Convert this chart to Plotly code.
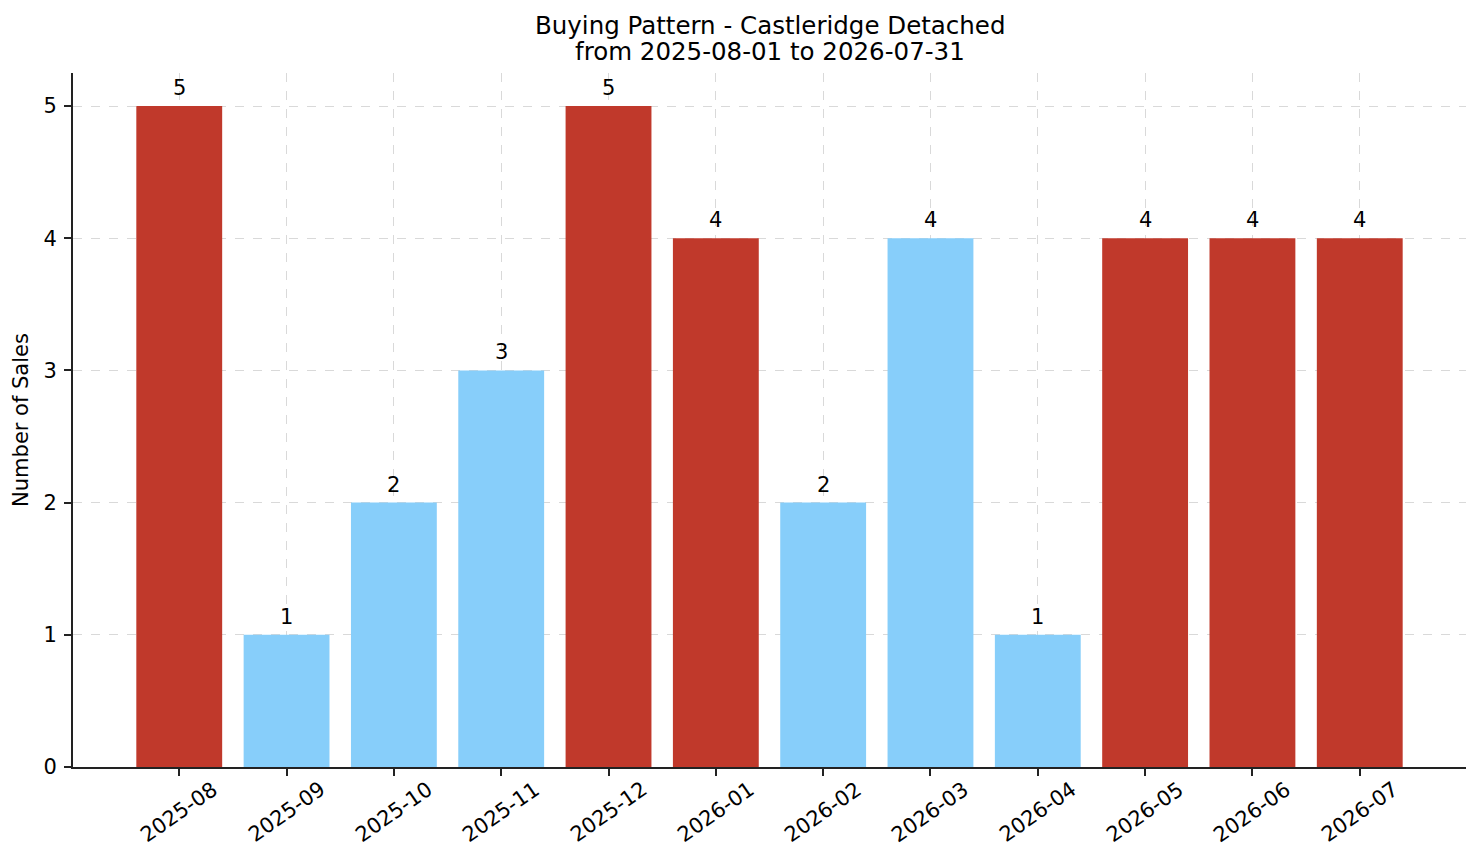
import plotly.graph_objects as go

months = ["2025-08", "2025-09", "2025-10", "2025-11", "2025-12", "2026-01",
          "2026-02", "2026-03", "2026-04", "2026-05", "2026-06", "2026-07"]
sales = [5, 1, 2, 3, 5, 4, 2, 4, 1, 4, 4, 4]
# months flagged as busy buying months (red) vs. quiet (blue)
busy = [True, False, False, False, True, True, False, False, False, True, True, True]
title_lines = ["Buying Pattern - Castleridge Detached", "from 2025-08-01 to 2026-07-31"]

RED = "#c0392b"
BLUE = "#87cefa"
FONT = "DejaVu Sans"
colors = [RED if b else BLUE for b in busy]
xs = list(range(len(months)))

fig = go.Figure(go.Bar(
    x=xs, y=sales,
    marker_color=colors, marker_line_width=0, width=0.8,
    cliponaxis=False,
))

# value labels above the bars
for i, s in zip(xs, sales):
    fig.add_annotation(
        x=i, y=s, text=str(s), showarrow=False,
        xanchor="center", yanchor="bottom", yshift=4,
        font=dict(size=21, color="black", family=FONT),
    )

# rotated month labels centred under each tick, like matplotlib
for i, m in zip(xs, months):
    fig.add_annotation(
        x=i, y=0, yref="y", text=m, textangle=-35, showarrow=False,
        xanchor="center", yanchor="middle", yshift=-45,
        font=dict(size=21, color="black", family=FONT),
    )

# two-line title with tighter line spacing than plotly's default
for line, shift in zip(title_lines, [47.5, 21.5]):
    fig.add_annotation(
        x=0.5, xref="paper", y=1, yref="paper", text=line, showarrow=False,
        xanchor="center", yanchor="middle", yshift=shift,
        font=dict(size=24.5, color="black", family=FONT),
    )

fig.update_layout(
    width=1481, height=863,
    paper_bgcolor="white", plot_bgcolor="white",
    font=dict(family=FONT, size=21, color="black"),
    margin=dict(l=63, r=23, t=65, b=104),
    showlegend=False,
)
fig.update_xaxes(
    range=[-0.99, 11.99], tickvals=xs, ticktext=[""] * len(months),
    showline=True, linecolor="#222", linewidth=1.7,
    ticks="outside", ticklen=7, tickwidth=1.6, tickcolor="#222",
    showgrid=True, gridcolor="rgba(180,180,180,0.5)", griddash="dash", gridwidth=1,
    layer="above traces", zeroline=False,
)
fig.update_yaxes(
    range=[0, 5.25], tickvals=[0, 1, 2, 3, 4, 5],
    showline=True, linecolor="#222", linewidth=1.7,
    ticks="outside", ticklen=7, tickwidth=1.6, tickcolor="#222",
    tickfont=dict(size=21), ticklabelstandoff=3,
    showgrid=True, gridcolor="rgba(180,180,180,0.5)", griddash="dash", gridwidth=1,
    layer="above traces", zeroline=False,
    title=dict(text="Number of Sales", font=dict(size=21), standoff=9),
)

fig.write_html("out.html")
